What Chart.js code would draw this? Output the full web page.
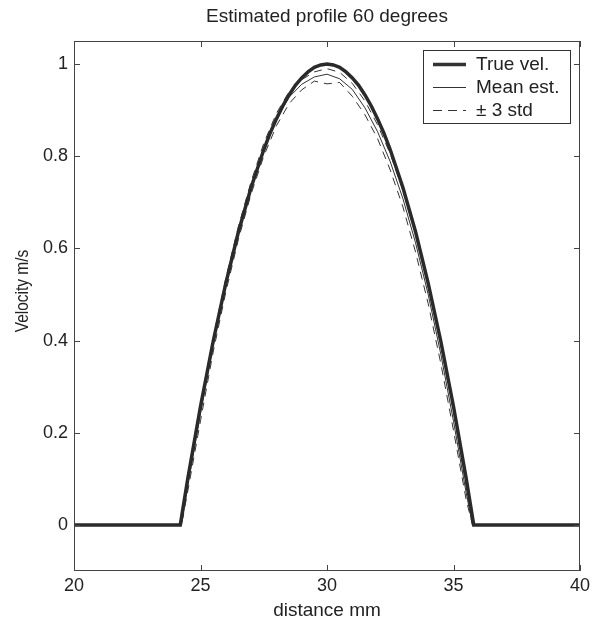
<!DOCTYPE html>
<html>
<head>
<meta charset="utf-8">
<script src="https://cdn.jsdelivr.net/npm/chart.js@4/dist/chart.umd.min.js"></script>
<style>
  html, body { margin: 0; padding: 0; background: #fff; }
  #wrap { width: 602px; height: 622px; }
</style>
</head>
<body>
<div id="wrap"><canvas id="profileChart" width="602" height="622"></canvas></div>
<script>
// Data
const trueX = [20, 24.2, 24.5, 25, 25.5, 26, 26.5, 27, 27.5, 27.75, 28, 28.25, 28.5, 28.75, 29, 29.25, 29.5, 29.75, 30,
  30.25, 30.5, 30.75, 31, 31.25, 31.5, 31.75, 32, 32.25, 32.5, 33, 33.5, 34, 34.5, 35, 35.5, 35.8, 40];
const trueVel = [0, 0, 0.101, 0.257, 0.398, 0.524, 0.636, 0.732, 0.814, 0.850, 0.881, 0.909, 0.933, 0.954, 0.970, 0.983, 0.993, 0.998, 1.0,
  0.998, 0.993, 0.983, 0.970, 0.954, 0.933, 0.909, 0.881, 0.850, 0.814, 0.732, 0.636, 0.524, 0.398, 0.257, 0.101, 0, 0];

const estX = [20, 24.25, 24.5, 25, 25.5, 26, 26.5, 27, 27.5, 28, 28.5, 29, 29.5, 30,
  30.5, 31, 31.5, 32, 32.5, 33, 33.5, 34, 34.5, 35, 35.5, 35.75, 40];
const meanEst = [0, 0, 0.088, 0.243, 0.39, 0.52, 0.634, 0.732, 0.815, 0.88, 0.928, 0.956, 0.972, 0.978,
  0.968, 0.945, 0.905, 0.853, 0.788, 0.708, 0.612, 0.50, 0.37, 0.225, 0.07, 0, 0];
const upperStd = [0, 0, 0.102, 0.26, 0.405, 0.535, 0.648, 0.745, 0.828, 0.893, 0.94, 0.966, 0.983, 0.99,
  0.982, 0.958, 0.92, 0.868, 0.805, 0.726, 0.632, 0.52, 0.39, 0.245, 0.085, 0, 0];
const lowerStd = [0, 0, 0.074, 0.226, 0.375, 0.505, 0.62, 0.718, 0.8, 0.866, 0.914, 0.944, 0.963, 0.957,
  0.96, 0.93, 0.89, 0.838, 0.77, 0.69, 0.592, 0.48, 0.35, 0.205, 0.055, 0, 0];

const xTicks = [20, 25, 30, 35, 40];
const yTicks = [0, 0.2, 0.4, 0.6, 0.8, 1];

const titleText = 'Estimated profile 60 degrees';
const xLabel = 'distance mm';
const yLabel = 'Velocity m/s';
const legendLabels = ['True vel.', 'Mean est.', '\u00b1 3 std'];

const FONT = '"Liberation Sans", Arial, Helvetica, sans-serif';
const INK = '#222';

function pts(xs, ys) {
  return xs.map((x, i) => ({ x: x, y: ys[i] }));
}

// Title, y label, inward ticks, frame and legend in MATLAB style
const matlabFrame = {
  id: 'matlabFrame',
  afterDraw(chart) {
    const ctx = chart.ctx;
    const a = chart.chartArea;
    const xs = chart.scales.x;
    const ys = chart.scales.y;
    ctx.save();

    // frame
    ctx.strokeStyle = '#444';
    ctx.lineWidth = 1;
    ctx.strokeRect(a.left + 0.5, a.top + 0.5, a.right - a.left - 1, a.bottom - a.top - 1);

    // inward ticks
    const tl = 6;
    ctx.beginPath();
    xTicks.forEach(v => {
      const px = Math.round(xs.getPixelForValue(v)) + 0.5;
      ctx.moveTo(px, a.bottom); ctx.lineTo(px, a.bottom - tl);
      ctx.moveTo(px, a.top); ctx.lineTo(px, a.top + tl);
    });
    yTicks.forEach(v => {
      const py = Math.round(ys.getPixelForValue(v)) + 0.5;
      ctx.moveTo(a.left, py); ctx.lineTo(a.left + tl, py);
      ctx.moveTo(a.right, py); ctx.lineTo(a.right - tl, py);
    });
    ctx.stroke();

    // title
    ctx.fillStyle = INK;
    ctx.font = '19px ' + FONT;
    ctx.textAlign = 'center';
    ctx.textBaseline = 'middle';
    ctx.fillText(titleText, (a.left + a.right) / 2, 17);

    // y axis label (picture is squeezed vertically, so narrow the run of text)
    ctx.save();
    ctx.translate(23, 291);
    ctx.rotate(-Math.PI / 2);
    ctx.scale(0.86, 1);
    ctx.font = '18px ' + FONT;
    ctx.fillText(yLabel, 0, 0);
    ctx.restore();

    // legend
    const lx = 423, ly = 50, lw = 147, lh = 73;
    ctx.fillStyle = '#fff';
    ctx.fillRect(lx, ly, lw, lh);
    ctx.strokeStyle = '#333';
    ctx.strokeRect(lx + 0.5, ly + 0.5, lw, lh);
    const rows = [64, 87, 110];
    const styles = [
      { w: 3.5, dash: [] },
      { w: 1, dash: [] },
      { w: 1, dash: [9, 6] }
    ];
    ctx.font = '19px ' + FONT;
    ctx.textAlign = 'left';
    rows.forEach((ry, i) => {
      ctx.strokeStyle = '#333';
      ctx.lineWidth = styles[i].w;
      ctx.setLineDash(styles[i].dash);
      ctx.beginPath();
      ctx.moveTo(433, ry + 0.5);
      ctx.lineTo(466, ry + 0.5);
      ctx.stroke();
      ctx.setLineDash([]);
      ctx.fillStyle = INK;
      ctx.fillText(legendLabels[i], 476, ry + 1);
    });
    ctx.restore();
  }
};

new Chart(document.getElementById('profileChart'), {
  type: 'line',
  data: {
    datasets: [
      { label: legendLabels[0], data: pts(trueX, trueVel), borderColor: '#2a2a2a', borderWidth: 3.5 },
      { label: legendLabels[1], data: pts(estX, meanEst), borderColor: '#333', borderWidth: 1 },
      { label: legendLabels[2], data: pts(estX, upperStd), borderColor: '#333', borderWidth: 1, borderDash: [8, 6] },
      { label: legendLabels[2] + ' low', data: pts(estX, lowerStd), borderColor: '#333', borderWidth: 1, borderDash: [8, 6] }
    ]
  },
  options: {
    responsive: false,
    animation: false,
    devicePixelRatio: 1,
    layout: { padding: { left: 0, right: 22, top: 41, bottom: 0 } },
    elements: {
      point: { radius: 0 },
      line: { tension: 0, fill: false, borderJoinStyle: 'miter' }
    },
    plugins: {
      legend: { display: false },
      title: { display: false },
      tooltip: { enabled: false }
    },
    scales: {
      x: {
        type: 'linear',
        min: 20,
        max: 40,
        afterBuildTicks: s => { s.ticks = xTicks.map(v => ({ value: v })); },
        afterFit: s => { s.height = 51; },
        grid: { display: false, drawTicks: false },
        border: { display: false },
        ticks: { color: INK, font: { family: FONT, size: 18 }, padding: 4, maxRotation: 0 },
        title: { display: true, text: xLabel, color: INK, font: { family: FONT, size: 19 }, padding: { top: 0, bottom: 0 } }
      },
      y: {
        type: 'linear',
        min: -0.1,
        max: 1.05,
        afterBuildTicks: s => { s.ticks = yTicks.map(v => ({ value: v })); },
        afterFit: s => { s.width = 74; },
        grid: { display: false, drawTicks: false },
        border: { display: false },
        ticks: { color: INK, font: { family: FONT, size: 18 }, padding: 6, callback: v => String(Math.round(v * 10) / 10) },
        title: { display: false }
      }
    }
  },
  plugins: [matlabFrame]
});
</script>
</body>
</html>
